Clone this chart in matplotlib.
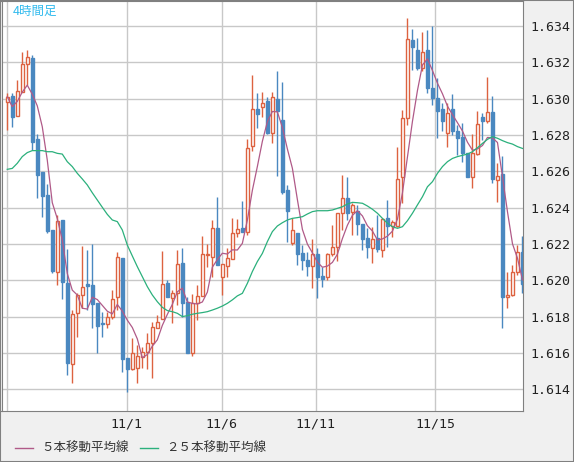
import numpy as np
import pandas as pd
import matplotlib
matplotlib.use("Agg")
import matplotlib.pyplot as plt

plt.rcParams['font.family'] = ['Noto Sans CJK JP', 'DejaVu Sans']

# ── 4-hour OHLC ──
opens = [1.62984, 1.63015, 1.62907, 1.63038, 1.63191, 1.63224, 1.62778, 1.62596, 1.62470, 1.62277,
         1.62048, 1.62332, 1.61983, 1.61537, 1.61818, 1.61919, 1.61980, 1.61974, 1.61877, 1.61767,
         1.61758, 1.61796, 1.61906, 1.62125, 1.61570, 1.61510, 1.61515, 1.61580, 1.61603, 1.61653,
         1.61736, 1.61785, 1.61983, 1.61904, 1.61932, 1.62093, 1.61882, 1.61598, 1.61877, 1.61915,
         1.62139, 1.62130, 1.62286, 1.62016, 1.62080, 1.62115, 1.62259, 1.62286, 1.62268, 1.62741,
         1.62943, 1.62952, 1.62987, 1.62813, 1.62998, 1.62882, 1.62497, 1.62207, 1.62259, 1.62152,
         1.62112, 1.62079, 1.62145, 1.62024, 1.62016, 1.62143, 1.62181, 1.62369, 1.62451, 1.62374,
         1.62383, 1.62310, 1.62235, 1.62176, 1.62231, 1.62167, 1.62341, 1.62301, 1.62301, 1.62567,
         1.62892, 1.63323, 1.63268, 1.63170, 1.63268, 1.63060, 1.63005, 1.62941, 1.62809, 1.62943,
         1.62822, 1.62791, 1.62699, 1.62570, 1.62695, 1.62901, 1.62879, 1.62925, 1.62552, 1.62583,
         1.61910, 1.61919, 1.62044, 1.62154]
highs = [1.63029, 1.63029, 1.63103, 1.63259, 1.63268, 1.63240, 1.62803, 1.62596, 1.62530, 1.62277,
         1.62359, 1.62332, 1.62172, 1.61836, 1.61928, 1.62189, 1.62167, 1.62198, 1.61877, 1.61827,
         1.61827, 1.61947, 1.62158, 1.62125, 1.61570, 1.61680, 1.61644, 1.61635, 1.61708, 1.61772,
         1.61809, 1.62163, 1.62001, 1.61947, 1.62167, 1.62176, 1.61910, 1.61925, 1.61974, 1.62244,
         1.62198, 1.62332, 1.62460, 1.62088, 1.62176, 1.62341, 1.62339, 1.62438, 1.62776, 1.63130,
         1.63033, 1.63038, 1.63011, 1.63038, 1.63154, 1.63093, 1.62525, 1.62341, 1.62259, 1.62194,
         1.62158, 1.62225, 1.62176, 1.62075, 1.62148, 1.62304, 1.62369, 1.62580, 1.62567, 1.62424,
         1.62414, 1.62310, 1.62290, 1.62295, 1.62359, 1.62341, 1.62442, 1.62332, 1.62736, 1.62937,
         1.63442, 1.63382, 1.63332, 1.63369, 1.63378, 1.63400, 1.63115, 1.62974, 1.62974, 1.63026,
         1.62855, 1.62864, 1.62699, 1.62804, 1.62932, 1.62919, 1.63121, 1.63015, 1.62644, 1.62684,
         1.62048, 1.62084, 1.62194, 1.62246]
lows = [1.62827, 1.62846, 1.62907, 1.63038, 1.63075, 1.62717, 1.62455, 1.62350, 1.62259, 1.62042,
        1.61974, 1.61899, 1.61479, 1.61436, 1.61686, 1.61846, 1.61837, 1.61739, 1.61598, 1.61690,
        1.61736, 1.61785, 1.61837, 1.61497, 1.61387, 1.61506, 1.61436, 1.61515, 1.61510, 1.61464,
        1.61736, 1.61785, 1.61910, 1.61763, 1.61864, 1.61800, 1.61598, 1.61583, 1.61782, 1.61915,
        1.62075, 1.62020, 1.62084, 1.61919, 1.62020, 1.62115, 1.62240, 1.62268, 1.62249, 1.62714,
        1.62837, 1.62897, 1.62804, 1.62754, 1.62574, 1.62473, 1.62209, 1.62194, 1.62084, 1.62057,
        1.62024, 1.61959, 1.61904, 1.61965, 1.62001, 1.62134, 1.62108, 1.62277, 1.62332, 1.62249,
        1.62249, 1.62167, 1.62125, 1.62093, 1.62158, 1.62130, 1.62185, 1.62240, 1.62295, 1.62424,
        1.62855, 1.63158, 1.63158, 1.63152, 1.63029, 1.62965, 1.62782, 1.62822, 1.62736, 1.62800,
        1.62690, 1.62653, 1.62570, 1.62506, 1.62690, 1.62772, 1.62864, 1.62537, 1.62433, 1.61739,
        1.61846, 1.61914, 1.62029, 1.61932]
closes = [1.63011, 1.62901, 1.63042, 1.63191, 1.63227, 1.62763, 1.62581, 1.62466, 1.62273, 1.62053,
          1.62326, 1.61992, 1.61543, 1.61814, 1.61919, 1.61961, 1.61971, 1.61868, 1.61750, 1.61759,
          1.61800, 1.61897, 1.62128, 1.61567, 1.61510, 1.61598, 1.61583, 1.61607, 1.61657, 1.61741,
          1.61772, 1.61980, 1.61910, 1.61932, 1.62088, 1.61873, 1.61598, 1.61873, 1.61915, 1.62143,
          1.62143, 1.62286, 1.62084, 1.62088, 1.62121, 1.62259, 1.62281, 1.62268, 1.62727, 1.62943,
          1.62915, 1.62974, 1.62809, 1.63007, 1.62932, 1.62484, 1.62383, 1.62277, 1.62145, 1.62112,
          1.62079, 1.62143, 1.62020, 1.62005, 1.62143, 1.62181, 1.62369, 1.62451, 1.62372, 1.62414,
          1.62310, 1.62225, 1.62181, 1.62225, 1.62170, 1.62337, 1.62301, 1.62319, 1.62556, 1.62892,
          1.63326, 1.63282, 1.63170, 1.63259, 1.63060, 1.63005, 1.62932, 1.62879, 1.62919, 1.62824,
          1.62785, 1.62703, 1.62570, 1.62699, 1.62860, 1.62879, 1.62925, 1.62556, 1.62574, 1.61910,
          1.61919, 1.62044, 1.62158, 1.61978]

# 25-period average (its window reaches before the first candle)
ma25 = [1.62611, 1.62616, 1.62644, 1.62681, 1.62703, 1.62714, 1.62714, 1.62714, 1.62708, 1.62708,
        1.62699, 1.62695, 1.62653, 1.62626, 1.62589, 1.62558, 1.62525, 1.62482, 1.62442, 1.62402,
        1.62363, 1.62332, 1.62323, 1.62277, 1.62194, 1.62134, 1.62075, 1.62020, 1.61965, 1.61919,
        1.61882, 1.61851, 1.61833, 1.61827, 1.61818,
        1.61800, 1.61805, 1.61813, 1.61818, 1.61822, 1.61827, 1.61836, 1.61846, 1.61858, 1.61873,
        1.61892, 1.61914, 1.61928, 1.61983, 1.62048, 1.62103, 1.62148, 1.62213, 1.62268, 1.62299,
        1.62317, 1.62332, 1.62341, 1.62345, 1.62350, 1.62365, 1.62378, 1.62383, 1.62383, 1.62383,
        1.62387, 1.62396, 1.62405, 1.62420,
        1.62429, 1.62427, 1.62424, 1.62409, 1.62391, 1.62369, 1.62341, 1.62314, 1.62295, 1.62286,
        1.62295, 1.62328, 1.62369, 1.62415, 1.62460, 1.62515, 1.62543, 1.62589, 1.62626, 1.62653,
        1.62671, 1.62681, 1.62688, 1.62695, 1.62708, 1.62730, 1.62754, 1.62776, 1.62791, 1.62782,
        1.62769, 1.62758, 1.62750, 1.62736, 1.62726]

date_ticks = [23.9, 42.9, 61.7, 85.5]
date_labels = ["11/1", "11/6", "11/11", "11/15"]
price_ticks = [1.614, 1.616, 1.618, 1.620, 1.622, 1.624, 1.626, 1.628, 1.630, 1.632, 1.634]

UP = "#dd6240"
DOWN = "#4a88c0"
MA5_C = "#b05a88"
MA25_C = "#2bb07c"

df = pd.DataFrame({"o": opens, "h": highs, "l": lows, "c": closes})
ma5 = df["c"].rolling(5, min_periods=1).mean()
x = np.arange(len(df))

fig = plt.figure(figsize=(5.74, 4.62), dpi=100, facecolor="#f0f0f0")
ax = fig.add_axes([1.5 / 574, 1 - 411 / 462, 521.5 / 574, 410 / 462])
ax.set_facecolor("white")

for xv in [-0.1] + date_ticks:
    ax.axvline(xv, color="#c8c8c8", lw=1, zorder=0)
for yv in price_ticks:
    ax.axhline(yv, color="#c8c8c8", lw=1, zorder=0)

w = 0.6
for i, r in df.iterrows():
    up = r.c >= r.o
    col = UP if up else DOWN
    ax.vlines(i, r.l, r.h, color=col, lw=1, zorder=2)
    lo, hi = min(r.o, r.c), max(r.o, r.c)
    ax.add_patch(plt.Rectangle((i - w / 2, lo), w, max(hi - lo, 0.00002),
                               facecolor="white" if up else col, edgecolor=col,
                               lw=1, zorder=3))

ax.plot(x, ma5, color=MA5_C, lw=0.9, zorder=4)
ax.plot(x, ma25, color=MA25_C, lw=0.9, zorder=4)

ax.set_xlim(-1.15, 103.1)
ax.set_ylim(1.6128, 1.63538)
ax.yaxis.tick_right()
ax.set_yticks(price_ticks)
ax.set_yticklabels([f"{v:.3f}" for v in price_ticks], family="DejaVu Sans Mono", fontsize=9.5)
ax.set_xticks(date_ticks)
ax.set_xticklabels(date_labels, family="DejaVu Sans Mono", fontsize=9.5)
ax.tick_params(length=0, pad=5, colors="#222222")
for s in ax.spines.values():
    s.set_color("#808080")

ax.text(0.022, 0.99, "4時間足", transform=ax.transAxes, color="#33bbee",
        fontsize=9, va="top", ha="left")

# legend row
ly = 1 - 448 / 462
fig.lines.append(plt.Line2D([15 / 574, 33 / 574], [ly, ly], color=MA5_C, lw=1,
                            transform=fig.transFigure))
fig.text(41 / 574, ly, "５本移動平均線", fontsize=9, va="center", color="#333333")
fig.lines.append(plt.Line2D([140 / 574, 158 / 574], [ly, ly], color=MA25_C, lw=1,
                            transform=fig.transFigure))
fig.text(166 / 574, ly, "２５本移動平均線", fontsize=9, va="center", color="#333333")

fig.patches.append(plt.Rectangle((0, 0), 1, 1, transform=fig.transFigure, fill=False,
                                 edgecolor="#808080", lw=1.5))
fig.savefig("out.png", dpi=100, facecolor=fig.get_facecolor())
